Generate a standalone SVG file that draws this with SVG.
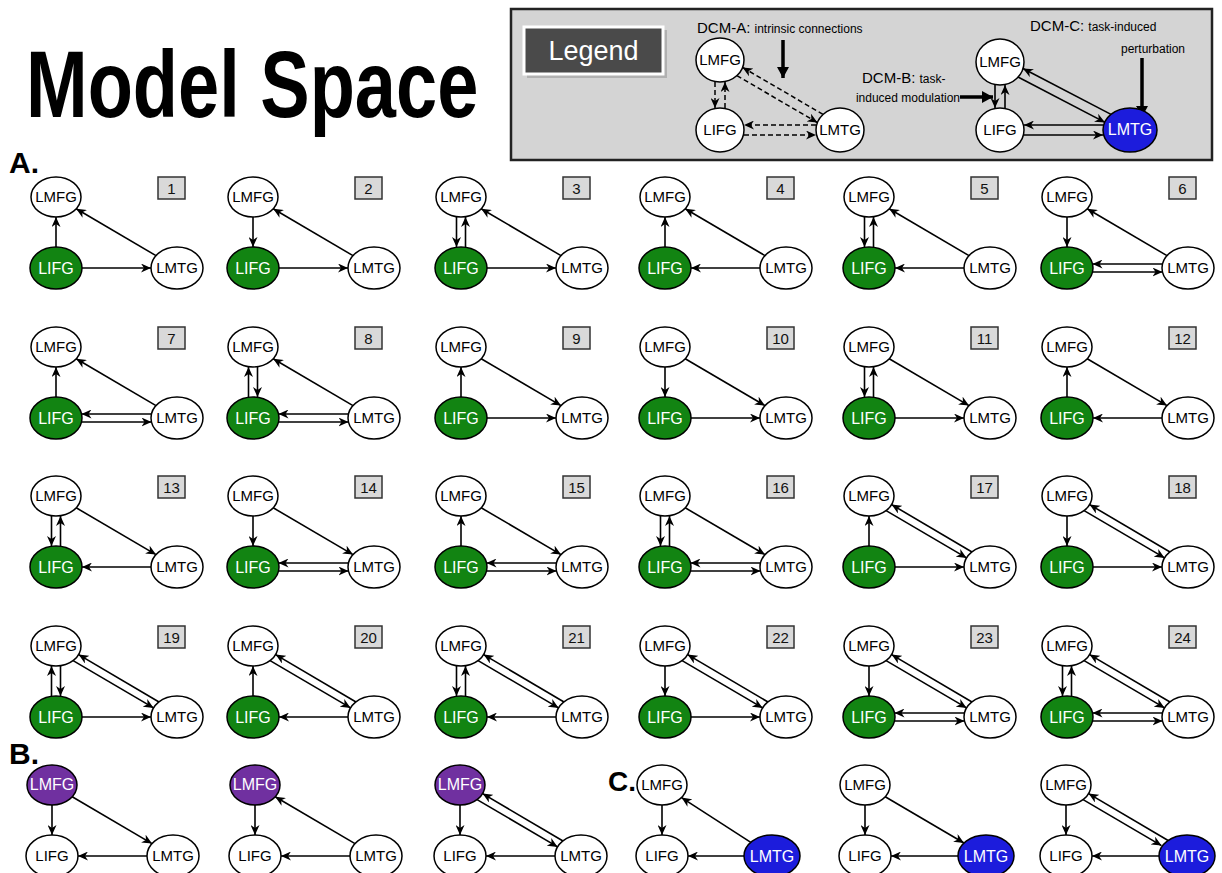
<svg xmlns="http://www.w3.org/2000/svg" width="1222" height="873" viewBox="0 0 1222 873">
<style>
text{font-family:"Liberation Sans",Arial,sans-serif;}
.c line{stroke:#000;stroke-width:1.6;marker-end:url(#ah);fill:none;}
.cd line{stroke:#000;stroke-width:1.5;stroke-dasharray:5,3;marker-end:url(#ah);}
.w{fill:#fff;stroke:#000;stroke-width:1.5;}
.g{fill:#128412;stroke:#000;stroke-width:1.5;}
.p{fill:#7030a0;stroke:#000;stroke-width:1.5;}
.b{fill:#1c1cdc;stroke:#000;stroke-width:1.5;}
.t{font-size:15px;fill:#000;text-anchor:middle;}
.tw{font-size:16px;fill:#fff;text-anchor:middle;}
.box{fill:#d9d9d9;stroke:#333;stroke-width:1.5;}
.num{font-size:15px;fill:#111;text-anchor:middle;}
.big line{stroke:#000;stroke-width:3.5;marker-end:url(#bh);}
</style>
<defs>
<marker id="ah" markerUnits="userSpaceOnUse" markerWidth="10" markerHeight="9" refX="10" refY="4.5" orient="auto"><path d="M0,0 L10,4.5 L0,9 L3,4.5 z" fill="#000"/></marker>
<marker id="bh" markerUnits="userSpaceOnUse" markerWidth="12" markerHeight="12" refX="11" refY="6" orient="auto"><path d="M0,0 L11,6 L0,12 z" fill="#000"/></marker>
</defs>
<rect width="1222" height="873" fill="#fff"/>
<text transform="translate(26,117) scale(1,1.27)" font-size="74" font-weight="bold">Model Space</text>
<text x="9" y="173" font-size="30" font-weight="bold">A.</text>
<text x="9" y="764" font-size="30" font-weight="bold">B.</text>
<text x="608" y="791" font-size="28" font-weight="bold">C.</text>

<g id="legend">
<rect x="511" y="9" width="701" height="151" fill="#d4d4d4" stroke="#222" stroke-width="2.5"/>
<rect x="527" y="30" width="140" height="48" fill="#999" opacity="0.6"/>
<rect x="524" y="27" width="139" height="47" fill="#4a4a4a" stroke="#fff" stroke-width="3"/>
<text x="593.5" y="60" font-size="27" fill="#fff" text-anchor="middle">Legend</text>
<text x="697" y="33" font-size="15">DCM-A: <tspan font-size="12">intrinsic connections</tspan></text>
<text x="862" y="83" font-size="15">DCM-B: <tspan font-size="12">task-</tspan></text>
<text x="960" y="102" font-size="12" text-anchor="end">induced modulation</text>
<text x="1030" y="31" font-size="15">DCM-C: <tspan font-size="12">task-induced</tspan></text>
<text x="1185" y="53" font-size="12" text-anchor="end">perturbation</text>
<g class="big"><line x1="783" y1="40" x2="783" y2="78"/><line x1="960" y1="97" x2="993" y2="97"/><line x1="1142" y1="58" x2="1142" y2="117"/></g>
<g class="cd">
<line x1="715" y1="82" x2="715" y2="108"/><line x1="725" y1="108" x2="725" y2="82"/>
<line x1="816" y1="125" x2="744" y2="125"/><line x1="744" y1="135" x2="816" y2="135"/>
<line x1="823" y1="114.4" x2="742.6" y2="67.4"/><line x1="736.9" y1="75.6" x2="817.4" y2="122.6"/>
</g>
<g class="c">
<line x1="995" y1="85" x2="995" y2="108"/><line x1="1005" y1="108" x2="1005" y2="85"/>
<line x1="1103" y1="125" x2="1024" y2="125"/><line x1="1024" y1="135" x2="1103" y2="135"/>
<line x1="1111" y1="114.4" x2="1023" y2="68.5"/><line x1="1018" y1="77" x2="1105" y2="122.4"/>
</g>
<g id="lg-a-lmfg"><ellipse class="w" cx="720" cy="60" rx="24" ry="22"/><text class="t" x="720" y="65" font-size="14">LMFG</text></g>
<g id="lg-a-lifg"><ellipse class="w" cx="720" cy="130" rx="24" ry="22"/><text class="t" x="720" y="135" font-size="14">LIFG</text></g>
<g id="lg-a-lmtg"><ellipse class="w" cx="840" cy="130" rx="24" ry="22"/><text class="t" x="840" y="135" font-size="14">LMTG</text></g>
<g id="lg-c-lmfg"><ellipse class="w" cx="1000" cy="62" rx="24" ry="23"/><text class="t" x="1000" y="67" font-size="14">LMFG</text></g>
<g id="lg-c-lifg"><ellipse class="w" cx="1000" cy="130" rx="24" ry="22"/><text class="t" x="1000" y="135" font-size="14">LIFG</text></g>
<g id="lg-c-lmtg"><ellipse class="b" cx="1130" cy="130" rx="27" ry="22"/><text class="tw" x="1130" y="135" font-size="14">LMTG</text></g>
</g>

<!-- Row 1 -->
<g id="model-1" transform="translate(56,197)">
<g class="c"><line x1="0" y1="50" x2="0" y2="20"/><line x1="100" y1="58.6" x2="20.2" y2="11.8"/><line x1="26" y1="71" x2="95" y2="71"/></g>
<g id="m1-lmfg"><ellipse class="w" rx="25" ry="20"/><text class="t" y="5">LMFG</text></g>
<g id="m1-lifg"><ellipse class="g" cy="71" rx="26" ry="21"/><text class="tw" y="77">LIFG</text></g>
<g id="m1-lmtg"><ellipse class="w" cx="121" cy="71" rx="26" ry="21"/><text class="t" x="121" y="76">LMTG</text></g>
<g id="m1-num"><rect class="box" x="102" y="-20" width="27" height="22"/><text class="num" x="115.5" y="-3">1</text></g>
</g>
<g id="model-2" transform="translate(253,197)">
<g class="c"><line x1="0" y1="20" x2="0" y2="50"/><line x1="100" y1="58.6" x2="20.2" y2="11.8"/><line x1="26" y1="71" x2="95" y2="71"/></g>
<g id="m2-lmfg"><ellipse class="w" rx="25" ry="20"/><text class="t" y="5">LMFG</text></g>
<g id="m2-lifg"><ellipse class="g" cy="71" rx="26" ry="21"/><text class="tw" y="77">LIFG</text></g>
<g id="m2-lmtg"><ellipse class="w" cx="121" cy="71" rx="26" ry="21"/><text class="t" x="121" y="76">LMTG</text></g>
<g id="m2-num"><rect class="box" x="102" y="-20" width="27" height="22"/><text class="num" x="115.5" y="-3">2</text></g>
</g>
<g id="model-3" transform="translate(461,197)">
<g class="c"><line x1="-4.5" y1="20" x2="-4.5" y2="50"/><line x1="4.5" y1="50" x2="4.5" y2="20"/><line x1="100" y1="58.6" x2="20.2" y2="11.8"/><line x1="26" y1="71" x2="95" y2="71"/></g>
<g id="m3-lmfg"><ellipse class="w" rx="25" ry="20"/><text class="t" y="5">LMFG</text></g>
<g id="m3-lifg"><ellipse class="g" cy="71" rx="26" ry="21"/><text class="tw" y="77">LIFG</text></g>
<g id="m3-lmtg"><ellipse class="w" cx="121" cy="71" rx="26" ry="21"/><text class="t" x="121" y="76">LMTG</text></g>
<g id="m3-num"><rect class="box" x="102" y="-20" width="27" height="22"/><text class="num" x="115.5" y="-3">3</text></g>
</g>
<g id="model-4" transform="translate(665,197)">
<g class="c"><line x1="0" y1="50" x2="0" y2="20"/><line x1="100" y1="58.6" x2="20.2" y2="11.8"/><line x1="95" y1="71" x2="26" y2="71"/></g>
<g id="m4-lmfg"><ellipse class="w" rx="25" ry="20"/><text class="t" y="5">LMFG</text></g>
<g id="m4-lifg"><ellipse class="g" cy="71" rx="26" ry="21"/><text class="tw" y="77">LIFG</text></g>
<g id="m4-lmtg"><ellipse class="w" cx="121" cy="71" rx="26" ry="21"/><text class="t" x="121" y="76">LMTG</text></g>
<g id="m4-num"><rect class="box" x="102" y="-20" width="27" height="22"/><text class="num" x="115.5" y="-3">4</text></g>
</g>
<g id="model-5" transform="translate(869,197)">
<g class="c"><line x1="-4.5" y1="20" x2="-4.5" y2="50"/><line x1="4.5" y1="50" x2="4.5" y2="20"/><line x1="100" y1="58.6" x2="20.2" y2="11.8"/><line x1="95" y1="71" x2="26" y2="71"/></g>
<g id="m5-lmfg"><ellipse class="w" rx="25" ry="20"/><text class="t" y="5">LMFG</text></g>
<g id="m5-lifg"><ellipse class="g" cy="71" rx="26" ry="21"/><text class="tw" y="77">LIFG</text></g>
<g id="m5-lmtg"><ellipse class="w" cx="121" cy="71" rx="26" ry="21"/><text class="t" x="121" y="76">LMTG</text></g>
<g id="m5-num"><rect class="box" x="102" y="-20" width="27" height="22"/><text class="num" x="115.5" y="-3">5</text></g>
</g>
<g id="model-6" transform="translate(1067,197)">
<g class="c"><line x1="0" y1="20" x2="0" y2="50"/><line x1="100" y1="58.6" x2="20.2" y2="11.8"/><line x1="95.5" y1="67" x2="25.5" y2="67"/><line x1="25.5" y1="75" x2="95.5" y2="75"/></g>
<g id="m6-lmfg"><ellipse class="w" rx="25" ry="20"/><text class="t" y="5">LMFG</text></g>
<g id="m6-lifg"><ellipse class="g" cy="71" rx="26" ry="21"/><text class="tw" y="77">LIFG</text></g>
<g id="m6-lmtg"><ellipse class="w" cx="121" cy="71" rx="26" ry="21"/><text class="t" x="121" y="76">LMTG</text></g>
<g id="m6-num"><rect class="box" x="102" y="-20" width="27" height="22"/><text class="num" x="115.5" y="-3">6</text></g>
</g>

<!-- Row 2 -->
<g id="model-7" transform="translate(56,347)">
<g class="c"><line x1="0" y1="50" x2="0" y2="20"/><line x1="100" y1="58.6" x2="20.2" y2="11.8"/><line x1="95.5" y1="67" x2="25.5" y2="67"/><line x1="25.5" y1="75" x2="95.5" y2="75"/></g>
<g id="m7-lmfg"><ellipse class="w" rx="25" ry="20"/><text class="t" y="5">LMFG</text></g>
<g id="m7-lifg"><ellipse class="g" cy="71" rx="26" ry="21"/><text class="tw" y="77">LIFG</text></g>
<g id="m7-lmtg"><ellipse class="w" cx="121" cy="71" rx="26" ry="21"/><text class="t" x="121" y="76">LMTG</text></g>
<g id="m7-num"><rect class="box" x="102" y="-20" width="27" height="22"/><text class="num" x="115.5" y="-3">7</text></g>
</g>
<g id="model-8" transform="translate(253,347)">
<g class="c"><line x1="-4.5" y1="50" x2="-4.5" y2="20"/><line x1="4.5" y1="20" x2="4.5" y2="50"/><line x1="100" y1="58.6" x2="20.2" y2="11.8"/><line x1="95.5" y1="67" x2="25.5" y2="67"/><line x1="25.5" y1="75" x2="95.5" y2="75"/></g>
<g id="m8-lmfg"><ellipse class="w" rx="25" ry="20"/><text class="t" y="5">LMFG</text></g>
<g id="m8-lifg"><ellipse class="g" cy="71" rx="26" ry="21"/><text class="tw" y="77">LIFG</text></g>
<g id="m8-lmtg"><ellipse class="w" cx="121" cy="71" rx="26" ry="21"/><text class="t" x="121" y="76">LMTG</text></g>
<g id="m8-num"><rect class="box" x="102" y="-20" width="27" height="22"/><text class="num" x="115.5" y="-3">8</text></g>
</g>
<g id="model-9" transform="translate(461,347)">
<g class="c"><line x1="0" y1="50" x2="0" y2="20"/><line x1="20.2" y1="11.8" x2="100" y2="58.6"/><line x1="26" y1="71" x2="95" y2="71"/></g>
<g id="m9-lmfg"><ellipse class="w" rx="25" ry="20"/><text class="t" y="5">LMFG</text></g>
<g id="m9-lifg"><ellipse class="g" cy="71" rx="26" ry="21"/><text class="tw" y="77">LIFG</text></g>
<g id="m9-lmtg"><ellipse class="w" cx="121" cy="71" rx="26" ry="21"/><text class="t" x="121" y="76">LMTG</text></g>
<g id="m9-num"><rect class="box" x="102" y="-20" width="27" height="22"/><text class="num" x="115.5" y="-3">9</text></g>
</g>
<g id="model-10" transform="translate(665,347)">
<g class="c"><line x1="0" y1="20" x2="0" y2="50"/><line x1="20.2" y1="11.8" x2="100" y2="58.6"/><line x1="26" y1="71" x2="95" y2="71"/></g>
<g id="m10-lmfg"><ellipse class="w" rx="25" ry="20"/><text class="t" y="5">LMFG</text></g>
<g id="m10-lifg"><ellipse class="g" cy="71" rx="26" ry="21"/><text class="tw" y="77">LIFG</text></g>
<g id="m10-lmtg"><ellipse class="w" cx="121" cy="71" rx="26" ry="21"/><text class="t" x="121" y="76">LMTG</text></g>
<g id="m10-num"><rect class="box" x="102" y="-20" width="27" height="22"/><text class="num" x="115.5" y="-3">10</text></g>
</g>
<g id="model-11" transform="translate(869,347)">
<g class="c"><line x1="-4.5" y1="20" x2="-4.5" y2="50"/><line x1="4.5" y1="50" x2="4.5" y2="20"/><line x1="20.2" y1="11.8" x2="100" y2="58.6"/><line x1="26" y1="71" x2="95" y2="71"/></g>
<g id="m11-lmfg"><ellipse class="w" rx="25" ry="20"/><text class="t" y="5">LMFG</text></g>
<g id="m11-lifg"><ellipse class="g" cy="71" rx="26" ry="21"/><text class="tw" y="77">LIFG</text></g>
<g id="m11-lmtg"><ellipse class="w" cx="121" cy="71" rx="26" ry="21"/><text class="t" x="121" y="76">LMTG</text></g>
<g id="m11-num"><rect class="box" x="102" y="-20" width="27" height="22"/><text class="num" x="115.5" y="-3">11</text></g>
</g>
<g id="model-12" transform="translate(1067,347)">
<g class="c"><line x1="0" y1="50" x2="0" y2="20"/><line x1="20.2" y1="11.8" x2="100" y2="58.6"/><line x1="95" y1="71" x2="26" y2="71"/></g>
<g id="m12-lmfg"><ellipse class="w" rx="25" ry="20"/><text class="t" y="5">LMFG</text></g>
<g id="m12-lifg"><ellipse class="g" cy="71" rx="26" ry="21"/><text class="tw" y="77">LIFG</text></g>
<g id="m12-lmtg"><ellipse class="w" cx="121" cy="71" rx="26" ry="21"/><text class="t" x="121" y="76">LMTG</text></g>
<g id="m12-num"><rect class="box" x="102" y="-20" width="27" height="22"/><text class="num" x="115.5" y="-3">12</text></g>
</g>

<!-- Row 3 -->
<g id="model-13" transform="translate(56,496)">
<g class="c"><line x1="-4.5" y1="20" x2="-4.5" y2="50"/><line x1="4.5" y1="50" x2="4.5" y2="20"/><line x1="20.2" y1="11.8" x2="100" y2="58.6"/><line x1="95" y1="71" x2="26" y2="71"/></g>
<g id="m13-lmfg"><ellipse class="w" rx="25" ry="20"/><text class="t" y="5">LMFG</text></g>
<g id="m13-lifg"><ellipse class="g" cy="71" rx="26" ry="21"/><text class="tw" y="77">LIFG</text></g>
<g id="m13-lmtg"><ellipse class="w" cx="121" cy="71" rx="26" ry="21"/><text class="t" x="121" y="76">LMTG</text></g>
<g id="m13-num"><rect class="box" x="102" y="-20" width="27" height="22"/><text class="num" x="115.5" y="-3">13</text></g>
</g>
<g id="model-14" transform="translate(253,496)">
<g class="c"><line x1="0" y1="20" x2="0" y2="50"/><line x1="20.2" y1="11.8" x2="100" y2="58.6"/><line x1="95.5" y1="67" x2="25.5" y2="67"/><line x1="25.5" y1="75" x2="95.5" y2="75"/></g>
<g id="m14-lmfg"><ellipse class="w" rx="25" ry="20"/><text class="t" y="5">LMFG</text></g>
<g id="m14-lifg"><ellipse class="g" cy="71" rx="26" ry="21"/><text class="tw" y="77">LIFG</text></g>
<g id="m14-lmtg"><ellipse class="w" cx="121" cy="71" rx="26" ry="21"/><text class="t" x="121" y="76">LMTG</text></g>
<g id="m14-num"><rect class="box" x="102" y="-20" width="27" height="22"/><text class="num" x="115.5" y="-3">14</text></g>
</g>
<g id="model-15" transform="translate(461,496)">
<g class="c"><line x1="0" y1="50" x2="0" y2="20"/><line x1="20.2" y1="11.8" x2="100" y2="58.6"/><line x1="95.5" y1="67" x2="25.5" y2="67"/><line x1="25.5" y1="75" x2="95.5" y2="75"/></g>
<g id="m15-lmfg"><ellipse class="w" rx="25" ry="20"/><text class="t" y="5">LMFG</text></g>
<g id="m15-lifg"><ellipse class="g" cy="71" rx="26" ry="21"/><text class="tw" y="77">LIFG</text></g>
<g id="m15-lmtg"><ellipse class="w" cx="121" cy="71" rx="26" ry="21"/><text class="t" x="121" y="76">LMTG</text></g>
<g id="m15-num"><rect class="box" x="102" y="-20" width="27" height="22"/><text class="num" x="115.5" y="-3">15</text></g>
</g>
<g id="model-16" transform="translate(665,496)">
<g class="c"><line x1="-4.5" y1="20" x2="-4.5" y2="50"/><line x1="4.5" y1="50" x2="4.5" y2="20"/><line x1="20.2" y1="11.8" x2="100" y2="58.6"/><line x1="95.5" y1="67" x2="25.5" y2="67"/><line x1="25.5" y1="75" x2="95.5" y2="75"/></g>
<g id="m16-lmfg"><ellipse class="w" rx="25" ry="20"/><text class="t" y="5">LMFG</text></g>
<g id="m16-lifg"><ellipse class="g" cy="71" rx="26" ry="21"/><text class="tw" y="77">LIFG</text></g>
<g id="m16-lmtg"><ellipse class="w" cx="121" cy="71" rx="26" ry="21"/><text class="t" x="121" y="76">LMTG</text></g>
<g id="m16-num"><rect class="box" x="102" y="-20" width="27" height="22"/><text class="num" x="115.5" y="-3">16</text></g>
</g>
<g id="model-17" transform="translate(869,496)">
<g class="c"><line x1="0" y1="50" x2="0" y2="20"/><line x1="103" y1="56" x2="22.6" y2="8.6"/><line x1="17.1" y1="14.6" x2="97.6" y2="61.9"/><line x1="26" y1="71" x2="95" y2="71"/></g>
<g id="m17-lmfg"><ellipse class="w" rx="25" ry="20"/><text class="t" y="5">LMFG</text></g>
<g id="m17-lifg"><ellipse class="g" cy="71" rx="26" ry="21"/><text class="tw" y="77">LIFG</text></g>
<g id="m17-lmtg"><ellipse class="w" cx="121" cy="71" rx="26" ry="21"/><text class="t" x="121" y="76">LMTG</text></g>
<g id="m17-num"><rect class="box" x="102" y="-20" width="27" height="22"/><text class="num" x="115.5" y="-3">17</text></g>
</g>
<g id="model-18" transform="translate(1067,496)">
<g class="c"><line x1="0" y1="20" x2="0" y2="50"/><line x1="103" y1="56" x2="22.6" y2="8.6"/><line x1="17.1" y1="14.6" x2="97.6" y2="61.9"/><line x1="26" y1="71" x2="95" y2="71"/></g>
<g id="m18-lmfg"><ellipse class="w" rx="25" ry="20"/><text class="t" y="5">LMFG</text></g>
<g id="m18-lifg"><ellipse class="g" cy="71" rx="26" ry="21"/><text class="tw" y="77">LIFG</text></g>
<g id="m18-lmtg"><ellipse class="w" cx="121" cy="71" rx="26" ry="21"/><text class="t" x="121" y="76">LMTG</text></g>
<g id="m18-num"><rect class="box" x="102" y="-20" width="27" height="22"/><text class="num" x="115.5" y="-3">18</text></g>
</g>

<!-- Row 4 -->
<g id="model-19" transform="translate(56,646)">
<g class="c"><line x1="-4.5" y1="50" x2="-4.5" y2="20"/><line x1="4.5" y1="20" x2="4.5" y2="50"/><line x1="103" y1="56" x2="22.6" y2="8.6"/><line x1="17.1" y1="14.6" x2="97.6" y2="61.9"/><line x1="26" y1="71" x2="95" y2="71"/></g>
<g id="m19-lmfg"><ellipse class="w" rx="25" ry="20"/><text class="t" y="5">LMFG</text></g>
<g id="m19-lifg"><ellipse class="g" cy="71" rx="26" ry="21"/><text class="tw" y="77">LIFG</text></g>
<g id="m19-lmtg"><ellipse class="w" cx="121" cy="71" rx="26" ry="21"/><text class="t" x="121" y="76">LMTG</text></g>
<g id="m19-num"><rect class="box" x="102" y="-20" width="27" height="22"/><text class="num" x="115.5" y="-3">19</text></g>
</g>
<g id="model-20" transform="translate(253,646)">
<g class="c"><line x1="0" y1="50" x2="0" y2="20"/><line x1="103" y1="56" x2="22.6" y2="8.6"/><line x1="17.1" y1="14.6" x2="97.6" y2="61.9"/><line x1="95" y1="71" x2="26" y2="71"/></g>
<g id="m20-lmfg"><ellipse class="w" rx="25" ry="20"/><text class="t" y="5">LMFG</text></g>
<g id="m20-lifg"><ellipse class="g" cy="71" rx="26" ry="21"/><text class="tw" y="77">LIFG</text></g>
<g id="m20-lmtg"><ellipse class="w" cx="121" cy="71" rx="26" ry="21"/><text class="t" x="121" y="76">LMTG</text></g>
<g id="m20-num"><rect class="box" x="102" y="-20" width="27" height="22"/><text class="num" x="115.5" y="-3">20</text></g>
</g>
<g id="model-21" transform="translate(461,646)">
<g class="c"><line x1="-4.5" y1="20" x2="-4.5" y2="50"/><line x1="4.5" y1="50" x2="4.5" y2="20"/><line x1="103" y1="56" x2="22.6" y2="8.6"/><line x1="17.1" y1="14.6" x2="97.6" y2="61.9"/><line x1="95" y1="71" x2="26" y2="71"/></g>
<g id="m21-lmfg"><ellipse class="w" rx="25" ry="20"/><text class="t" y="5">LMFG</text></g>
<g id="m21-lifg"><ellipse class="g" cy="71" rx="26" ry="21"/><text class="tw" y="77">LIFG</text></g>
<g id="m21-lmtg"><ellipse class="w" cx="121" cy="71" rx="26" ry="21"/><text class="t" x="121" y="76">LMTG</text></g>
<g id="m21-num"><rect class="box" x="102" y="-20" width="27" height="22"/><text class="num" x="115.5" y="-3">21</text></g>
</g>
<g id="model-22" transform="translate(665,646)">
<g class="c"><line x1="0" y1="20" x2="0" y2="50"/><line x1="103" y1="56" x2="22.6" y2="8.6"/><line x1="17.1" y1="14.6" x2="97.6" y2="61.9"/><line x1="26" y1="71" x2="95" y2="71"/></g>
<g id="m22-lmfg"><ellipse class="w" rx="25" ry="20"/><text class="t" y="5">LMFG</text></g>
<g id="m22-lifg"><ellipse class="g" cy="71" rx="26" ry="21"/><text class="tw" y="77">LIFG</text></g>
<g id="m22-lmtg"><ellipse class="w" cx="121" cy="71" rx="26" ry="21"/><text class="t" x="121" y="76">LMTG</text></g>
<g id="m22-num"><rect class="box" x="102" y="-20" width="27" height="22"/><text class="num" x="115.5" y="-3">22</text></g>
</g>
<g id="model-23" transform="translate(869,646)">
<g class="c"><line x1="0" y1="20" x2="0" y2="50"/><line x1="103" y1="56" x2="22.6" y2="8.6"/><line x1="17.1" y1="14.6" x2="97.6" y2="61.9"/><line x1="95.5" y1="67" x2="25.5" y2="67"/><line x1="25.5" y1="75" x2="95.5" y2="75"/></g>
<g id="m23-lmfg"><ellipse class="w" rx="25" ry="20"/><text class="t" y="5">LMFG</text></g>
<g id="m23-lifg"><ellipse class="g" cy="71" rx="26" ry="21"/><text class="tw" y="77">LIFG</text></g>
<g id="m23-lmtg"><ellipse class="w" cx="121" cy="71" rx="26" ry="21"/><text class="t" x="121" y="76">LMTG</text></g>
<g id="m23-num"><rect class="box" x="102" y="-20" width="27" height="22"/><text class="num" x="115.5" y="-3">23</text></g>
</g>
<g id="model-24" transform="translate(1067,646)">
<g class="c"><line x1="-4.5" y1="20" x2="-4.5" y2="50"/><line x1="4.5" y1="50" x2="4.5" y2="20"/><line x1="103" y1="56" x2="22.6" y2="8.6"/><line x1="17.1" y1="14.6" x2="97.6" y2="61.9"/><line x1="95.5" y1="67" x2="25.5" y2="67"/><line x1="25.5" y1="75" x2="95.5" y2="75"/></g>
<g id="m24-lmfg"><ellipse class="w" rx="25" ry="20"/><text class="t" y="5">LMFG</text></g>
<g id="m24-lifg"><ellipse class="g" cy="71" rx="26" ry="21"/><text class="tw" y="77">LIFG</text></g>
<g id="m24-lmtg"><ellipse class="w" cx="121" cy="71" rx="26" ry="21"/><text class="t" x="121" y="76">LMTG</text></g>
<g id="m24-num"><rect class="box" x="102" y="-20" width="27" height="22"/><text class="num" x="115.5" y="-3">24</text></g>
</g>

<!-- B row -->
<g id="model-b1" transform="translate(52,785)">
<g class="c"><line x1="0" y1="20" x2="0" y2="50"/><line x1="20.2" y1="11.8" x2="100" y2="58.6"/><line x1="95" y1="71" x2="26" y2="71"/></g>
<g id="b1-lmfg"><ellipse class="p" rx="25" ry="20"/><text class="tw" y="5" font-size="15">LMFG</text></g>
<g id="b1-lifg"><ellipse class="w" cy="71" rx="26" ry="21"/><text class="t" y="76">LIFG</text></g>
<g id="b1-lmtg"><ellipse class="w" cx="121" cy="71" rx="26" ry="21"/><text class="t" x="121" y="76">LMTG</text></g>
</g>
<g id="model-b2" transform="translate(255,785)">
<g class="c"><line x1="0" y1="20" x2="0" y2="50"/><line x1="100" y1="58.6" x2="20.2" y2="11.8"/><line x1="95" y1="71" x2="26" y2="71"/></g>
<g id="b2-lmfg"><ellipse class="p" rx="25" ry="20"/><text class="tw" y="5" font-size="15">LMFG</text></g>
<g id="b2-lifg"><ellipse class="w" cy="71" rx="26" ry="21"/><text class="t" y="76">LIFG</text></g>
<g id="b2-lmtg"><ellipse class="w" cx="121" cy="71" rx="26" ry="21"/><text class="t" x="121" y="76">LMTG</text></g>
</g>
<g id="model-b3" transform="translate(460,785)">
<g class="c"><line x1="0" y1="20" x2="0" y2="50"/><line x1="103" y1="56" x2="22.6" y2="8.6"/><line x1="17.1" y1="14.6" x2="97.6" y2="61.9"/><line x1="95" y1="71" x2="26" y2="71"/></g>
<g id="b3-lmfg"><ellipse class="p" rx="25" ry="20"/><text class="tw" y="5" font-size="15">LMFG</text></g>
<g id="b3-lifg"><ellipse class="w" cy="71" rx="26" ry="21"/><text class="t" y="76">LIFG</text></g>
<g id="b3-lmtg"><ellipse class="w" cx="121" cy="71" rx="26" ry="21"/><text class="t" x="121" y="76">LMTG</text></g>
</g>

<!-- C row -->
<g id="model-c1" transform="translate(662,785)">
<g class="c"><line x1="0" y1="20" x2="0" y2="50"/><line x1="88.8" y1="57.3" x2="19.5" y2="12.6"/><line x1="82" y1="71" x2="26" y2="71"/></g>
<g id="c1-lmfg"><ellipse class="w" rx="25" ry="20"/><text class="t" y="5">LMFG</text></g>
<g id="c1-lifg"><ellipse class="w" cy="71" rx="26" ry="21"/><text class="t" y="76">LIFG</text></g>
<g id="c1-lmtg"><ellipse class="b" cx="110" cy="71" rx="28" ry="21"/><text class="tw" x="110" y="77" font-size="15">LMTG</text></g>
</g>
<g id="model-c2" transform="translate(865,785)">
<g class="c"><line x1="0" y1="20" x2="0" y2="50"/><line x1="20.2" y1="11.8" x2="99" y2="58"/><line x1="93" y1="71" x2="26" y2="71"/></g>
<g id="c2-lmfg"><ellipse class="w" rx="25" ry="20"/><text class="t" y="5">LMFG</text></g>
<g id="c2-lifg"><ellipse class="w" cy="71" rx="26" ry="21"/><text class="t" y="76">LIFG</text></g>
<g id="c2-lmtg"><ellipse class="b" cx="121" cy="71" rx="28" ry="21"/><text class="tw" x="121" y="77" font-size="15">LMTG</text></g>
</g>
<g id="model-c3" transform="translate(1066,785)">
<g class="c"><line x1="0" y1="20" x2="0" y2="50"/><line x1="103" y1="56" x2="22.6" y2="8.6"/><line x1="17.1" y1="14.6" x2="95.5" y2="60.6"/><line x1="93" y1="71" x2="26" y2="71"/></g>
<g id="c3-lmfg"><ellipse class="w" rx="25" ry="20"/><text class="t" y="5">LMFG</text></g>
<g id="c3-lifg"><ellipse class="w" cy="71" rx="26" ry="21"/><text class="t" y="76">LIFG</text></g>
<g id="c3-lmtg"><ellipse class="b" cx="121" cy="71" rx="28" ry="21"/><text class="tw" x="121" y="77" font-size="15">LMTG</text></g>
</g>
</svg>
